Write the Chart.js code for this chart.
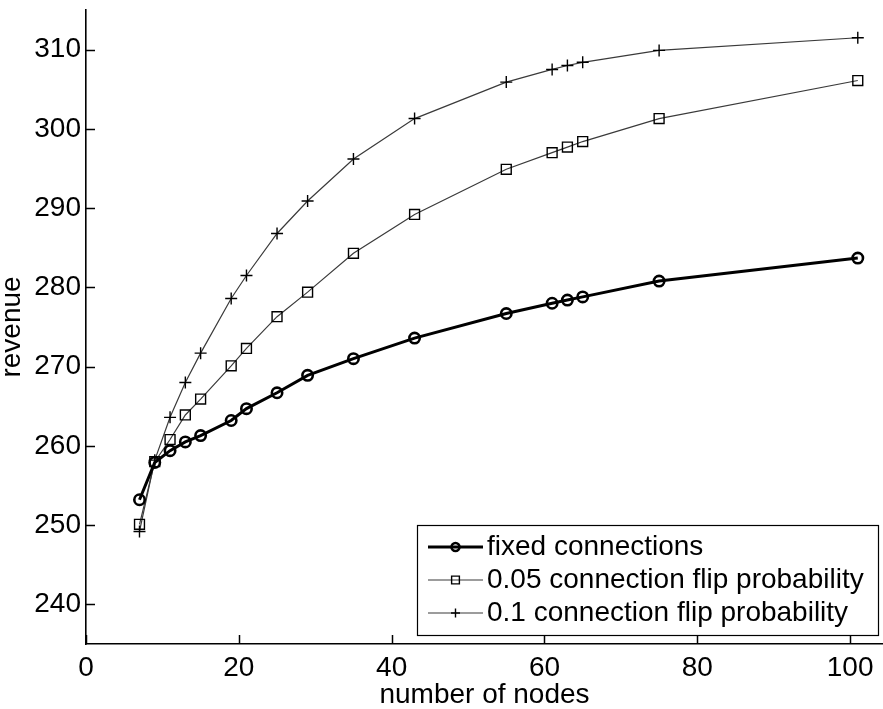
<!DOCTYPE html>
<html>
<head>
<meta charset="utf-8">
<script src="https://cdn.jsdelivr.net/npm/chart.js@4.4.1/dist/chart.umd.min.js"></script>
<style>
html,body{margin:0;padding:0;background:#fff;}
#wrap{width:883px;height:709px;position:relative;}
</style>
</head>
<body>
<div id="wrap"><canvas id="c" width="883" height="709"></canvas></div>
<script>
// ---- data ----
const nodes  = [7, 9, 11, 13, 15, 19, 21, 25, 29, 35, 43, 55, 61, 63, 65, 75, 101];
const fixedConn = [253.2, 257.9, 259.4, 260.5, 261.3, 263.2, 264.7, 266.7, 268.9, 271.0, 273.6, 276.7, 278.0, 278.4, 278.8, 280.8, 283.7];
const flip005   = [250.1, 258.0, 260.8, 263.9, 265.9, 270.1, 272.3, 276.3, 279.4, 284.3, 289.2, 294.9, 297.0, 297.7, 298.4, 301.3, 306.1];
const flip01    = [249.2, 258.2, 263.6, 268.0, 271.7, 278.6, 281.5, 286.8, 290.9, 296.2, 301.3, 305.9, 307.5, 308.0, 308.4, 309.9, 311.5];
const seriesLabels = ["fixed connections", "0.05 connection flip probability", "0.1 connection flip probability"];
const xTicks = [0, 20, 40, 60, 80, 100];
const yTicks = [240, 250, 260, 270, 280, 290, 300, 310];
const xTitle = "number of nodes";
const yTitle = "revenue";

const FONT = "'Liberation Sans', Arial, Helvetica, sans-serif";
const pts = ys => nodes.map((x, i) => ({x: x, y: ys[i]}));

// inward tick marks drawn from the scales
const inwardTicks = {
  id: 'inwardTicks',
  afterDatasetsDraw(chart) {
    const ctx = chart.ctx, xs = chart.scales.x, ys = chart.scales.y;
    const L = 9;
    ctx.save();
    ctx.strokeStyle = '#000';
    ctx.lineWidth = 1.5;
    ctx.beginPath();
    xTicks.forEach(v => {
      const px = Math.round(xs.getPixelForValue(v)) + 0.5;
      ctx.moveTo(px, ys.bottom); ctx.lineTo(px, ys.bottom - L);
    });
    yTicks.forEach(v => {
      const py = Math.round(ys.getPixelForValue(v)) + 0.5;
      ctx.moveTo(xs.left, py); ctx.lineTo(xs.left + L, py);
    });
    ctx.stroke();
    ctx.restore();
  }
};

function marker(ctx, style, x, y, r) {
  ctx.beginPath();
  if (style === 'circle') {
    ctx.arc(x, y, r, 0, Math.PI * 2);
  } else if (style === 'rect') {
    const s = r * Math.SQRT1_2;
    ctx.rect(x - s, y - s, 2 * s, 2 * s);
  } else if (style === 'cross') {
    ctx.moveTo(x - r, y); ctx.lineTo(x + r, y);
    ctx.moveTo(x, y - r); ctx.lineTo(x, y + r);
  }
  ctx.stroke();
}

// legend box inside the plot, lower right
const boxLegend = {
  id: 'boxLegend',
  afterDraw(chart) {
    const ctx = chart.ctx;
    const bx = 417, by = 525, bw = 461, bh = 110;
    ctx.save();
    ctx.fillStyle = '#fff';
    ctx.fillRect(bx, by, bw, bh);
    ctx.strokeStyle = '#000';
    ctx.lineWidth = 1.2;
    ctx.strokeRect(bx + 0.5, by + 0.5, bw, bh);
    chart.data.datasets.forEach((ds, i) => {
      const y = by + 22 + i * 33;
      ctx.strokeStyle = ds.borderColor;
      ctx.lineWidth = ds.borderWidth;
      ctx.beginPath();
      ctx.moveTo(428, y); ctx.lineTo(483, y);
      ctx.stroke();
      ctx.strokeStyle = '#000';
      ctx.lineWidth = ds.pointBorderWidth;
      marker(ctx, ds.pointStyle, 455.5, y, ds.legendRadius);
      ctx.fillStyle = '#000';
      ctx.font = '28px ' + FONT;
      ctx.textBaseline = 'middle';
      ctx.textAlign = 'left';
      ctx.fillText(ds.label, 487, y);
    });
    ctx.restore();
  }
};

new Chart(document.getElementById('c'), {
  type: 'line',
  data: {
    datasets: [
      {
        label: seriesLabels[0], data: pts(fixedConn),
        borderColor: '#000', borderWidth: 3,
        pointStyle: 'circle', pointRadius: 5.2, pointBorderWidth: 2.6,
        pointBorderColor: '#000', pointBackgroundColor: 'rgba(0,0,0,0)',
        legendRadius: 4
      },
      {
        label: seriesLabels[1], data: pts(flip005),
        borderColor: '#3a3a3a', borderWidth: 1.2,
        pointStyle: 'rect', pointRadius: 7, pointBorderWidth: 1.4,
        pointBorderColor: '#000', pointBackgroundColor: 'rgba(0,0,0,0)',
        legendRadius: 5.5
      },
      {
        label: seriesLabels[2], data: pts(flip01),
        borderColor: '#3a3a3a', borderWidth: 1.2,
        pointStyle: 'cross', pointRadius: 6, pointBorderWidth: 1.4,
        pointBorderColor: '#000', pointBackgroundColor: 'rgba(0,0,0,0)',
        legendRadius: 4.5
      }
    ]
  },
  options: {
    responsive: false,
    animation: false,
    events: [],
    clip: false,
    layout: { autoPadding: false, padding: { top: 10, right: 0, left: 0, bottom: 0 } },
    plugins: { legend: { display: false }, tooltip: { enabled: false } },
    elements: { line: { tension: 0 } },
    scales: {
      x: {
        type: 'linear', min: 0, max: 104.3,
        afterBuildTicks: s => { s.ticks = xTicks.map(v => ({value: v})); },
        afterFit: s => { s.height = 65; s.paddingLeft = 0; s.paddingRight = 0; },
        grid: { display: true, drawOnChartArea: false, drawTicks: false, color: 'rgba(0,0,0,0)' },
        border: { display: true, color: '#000', width: 1.6 },
        ticks: { color: '#000', padding: 7, maxRotation: 0, autoSkip: false,
                 font: { family: FONT, size: 28 } },
        title: { display: true, text: xTitle, color: '#000',
                 font: { family: FONT, size: 28, lineHeight: 1 },
                 padding: { top: 0, bottom: 0 } }
      },
      y: {
        type: 'linear', min: 235, max: 315,
        afterBuildTicks: s => { s.ticks = yTicks.map(v => ({value: v})); },
        afterFit: s => { s.width = 86; s.paddingTop = 0; s.paddingBottom = 0; },
        grid: { display: true, drawOnChartArea: false, drawTicks: false, color: 'rgba(0,0,0,0)' },
        border: { display: true, color: '#000', width: 1.6 },
        ticks: { color: '#000', padding: 5, autoSkip: false,
                 font: { family: FONT, size: 28 } },
        title: { display: true, text: yTitle, color: '#000',
                 font: { family: FONT, size: 28, lineHeight: 1 },
                 padding: { top: -2, bottom: 0 } }
      }
    }
  },
  plugins: [inwardTicks, boxLegend]
});
</script>
</body>
</html>
